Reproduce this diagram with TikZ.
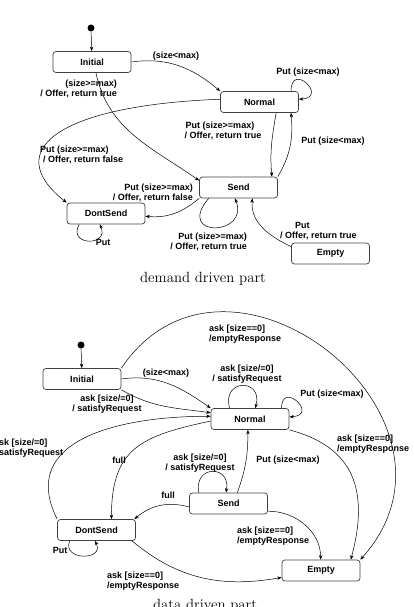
\documentclass[tikz,border=0pt]{standalone}
\usepackage{fontspec}
\newfontfamily\diagfont{Liberation Sans}
\usepackage{tikz}
\usetikzlibrary{positioning}
\usetikzlibrary{calc}
\usetikzlibrary{arrows.meta}

\tikzset{
  state/.style={draw=black!75, line width=0.7pt, rounded corners=3pt,
    minimum width=78pt, minimum height=21pt, inner sep=0pt,
    font=\diagfont\bfseries\fontsize{9}{10}\selectfont},
  lbl/.style={inner sep=0pt, align=center,
    font=\diagfont\bfseries\fontsize{9}{10}\selectfont},
  trans/.style={-{Stealth[length=4.5pt,width=3.4pt]}, line width=0.5pt},
  startdot/.style={circle, fill=black, inner sep=0pt, minimum size=7pt},
  caption/.style={inner sep=0pt, anchor=base, font=\fontsize{14.8}{17}\selectfont}
}

\begin{document}
\begin{tikzpicture}[x=1pt,y=1pt]
	\useasboundingbox (0,0) rectangle (414,-607);

	% demand driven part
	\node[startdot] (dotA) at (91,-28) {};
	\node[state] (iniA) at (92,-62) {Initial};
	\node[state] (norA) at (259.5,-102) {Normal};
	\node[state] (sndA) at (238.5,-187.5) {Send};
	\node[state] (dsnA) at (106,-213.5) {DontSend};
	\node[state] (empA) at (330.5,-253.5) {Empty};

	\draw[trans] (dotA) -- (iniA);
	\draw[trans] (iniA.east) to[out=8, in=140] (norA.north west);
	\draw[trans] (iniA.-70) to[out=-78, in=145] (sndA.170);
	\draw[trans] (norA.176) .. controls +(-160,-6) and +(-67,53) .. (dsnA.north west);
	\draw[trans] (norA.19) .. controls +(0,30) and +(30,2) .. (norA.4);
	\draw[trans] (norA.-33) to[out=-100, in=95] (sndA.18);
	\draw[trans] (sndA.north east) to[out=60, in=-85] (norA.-19);
	\draw[trans] (sndA.south west) to[out=-140, in=-5] (dsnA.-4);
	\draw[trans] (sndA.-160) .. controls +(-34,-40) and +(15,-38) .. (sndA.-108);
	\draw[trans] (dsnA.-158) .. controls +(-12,-22) and +(10,-22) .. (dsnA.-120);
	\draw[trans] (empA.170) to[out=155, in=-95] (sndA.-38);

	\node[lbl] (sizeA) at (176,-56) {(size<max)};
	\node[lbl, align=right, anchor=east] (offerA) at (117,-89) {(size>=max)\\/ Offer, return true};
	\node[lbl, align=left, anchor=west] (falseA) at (40,-155) {Put (size>=max)\\\hspace*{3pt}/ Offer, return false};
	\node[lbl] (putnorA) at (308,-72) {Put (size<max)};
	\node[lbl] (putsndA) at (220,-131) {Put (size>=max)\\\hspace*{6pt}/ Offer, return true};
	\node[lbl] (backA) at (333,-141) {Put (size<max)};
	\node[lbl, align=right, anchor=east] (falseB) at (193,-193) {Put (size>=max)\\/ Offer, return false};
	\node[lbl, align=right, anchor=east] (loopsndA) at (247,-241.5) {Put (size>=max)\\/ Offer, return true};
	\node[lbl] (putdsnA) at (103,-242) {Put};
	\node[lbl, align=left, anchor=west] (putempA) at (280,-231) {\hspace*{15pt}Put\\/ Offer, return true};

	\node[caption] (capA) at (203,-282.5) {demand driven part};

	% data driven part
	\node[startdot] (dotB) at (81,-345) {};
	\node[state] (iniB) at (82,-379) {Initial};
	\node[state] (norB) at (250,-419) {Normal};
	\node[state] (sndB) at (228.5,-503.5) {Send};
	\node[state] (dsnB) at (96.5,-530) {DontSend};
	\node[state] (empB) at (321,-570.5) {Empty};

	\draw[trans] (dotB) -- (iniB);
	\draw[trans] (iniB.north east) .. controls +(56:190) and +(48:190) .. (empB.north east);
	\draw[trans] (iniB.east) to[out=8, in=145] (norB.north west);
	\draw[trans] (iniB.south east) to[out=-30, in=172] (norB.171);
	\draw[trans] (dsnB.north west) .. controls +(-40,80) and +(-90,0) .. (norB.176);
	\draw[trans] (norB.183) to[out=192, in=90, looseness=1.3] (dsnB.36);
	\draw[trans] (norB.152) .. controls +(-8,30) and +(8,30) .. (norB.64);
	\draw[trans] (norB.19) .. controls +(0,28) and +(30,2) .. (norB.3);
	\draw[trans] (sndB.51) to[out=70, in=-90] (norB.-101);
	\draw[trans] (sndB.160) .. controls +(-5,28) and +(5,28) .. (sndB.103);
	\draw[trans] (sndB.185) to[out=165, in=40] (dsnB.16);
	\draw[trans] (norB.south east) .. controls +(-15:60) and +(75:80) .. (empB.20);
	\draw[trans] (sndB.-11) to[out=0, in=90] (empB.92);
	\draw[trans] (dsnB.-17) to[out=-40, in=190] (empB.190);
	\draw[trans] (dsnB.-158) .. controls +(-8,-20) and +(10,-20) .. (dsnB.-98);

	\node[lbl, align=left, anchor=west] (emptyA) at (209,-334) {ask [size==0]\\/emptyResponse};
	\node[lbl] (sizeB) at (166,-373) {(size<max)};
	\node[lbl] (askini) at (107,-404.5) {ask [size/=0]\\/ satisfyRequest};
	\node[lbl] (asknor) at (247,-374) {ask [size/=0]\\/ satisfyRequest};
	\node[lbl] (putnorB) at (332,-394) {Put (size<max)};
	\node[lbl, align=left, anchor=west] (askdsn) at (-6,-448.5) {ask [size/=0]\\/ satisfyRequest};
	\node[lbl] (fullA) at (119,-460) {full};
	\node[lbl] (asksnd) at (200,-463) {ask [size/=0]\\/ satisfyRequest};
	\node[lbl] (putsndB) at (288,-460) {Put (size<max)};
	\node[lbl] (fullB) at (168,-495) {full};
	\node[lbl, align=left, anchor=west] (emptyB) at (337,-444.5) {ask [size==0]\\/emptyResponse};
	\node[lbl, align=left, anchor=west] (emptyC) at (237,-536.5) {ask [size==0]\\/emptyResponse};
	\node[lbl, align=left, anchor=west] (emptyD) at (107,-581) {ask [size==0]\\/emptyResponse};
	\node[lbl] (putdsnB) at (60,-550) {Put};

	\node[caption] (capB) at (205,-609) {data driven part};
\end{tikzpicture}
\end{document}
